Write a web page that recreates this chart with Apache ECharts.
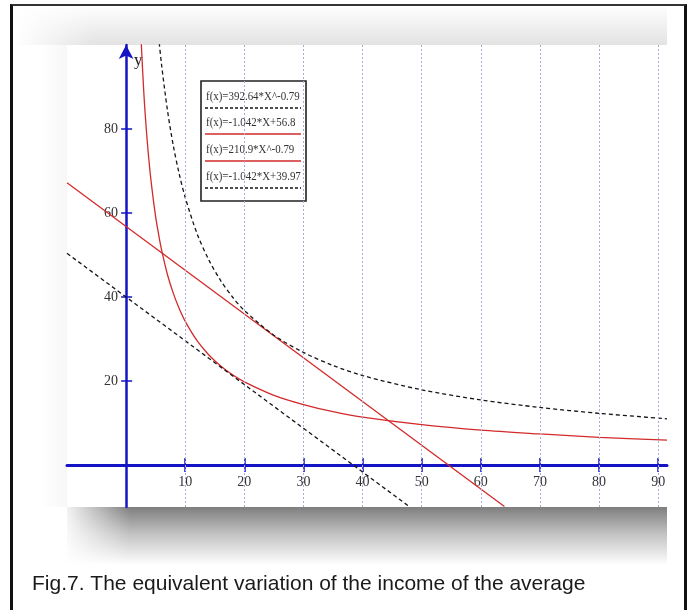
<!DOCTYPE html>
<html>
<head>
<meta charset="utf-8">
<title>Fig.7</title>
<script src="https://cdn.jsdelivr.net/npm/echarts@6/dist/echarts.min.js"></script>
<style>
html, body { margin: 0; padding: 0; background: #fff; overflow: hidden; width: 689px; height: 610px; }
#frame { position: absolute; left: 10px; top: 4px; width: 677px; height: 640px; box-sizing: border-box;
         border-left: 3px solid #111; border-right: 3px solid #111; border-top: 2px solid #333; }
#main { position: absolute; left: 0; top: 0; width: 689px; height: 610px; }
</style>
</head>
<body>
<div id="frame"></div>
<div id="main"></div>
<script>
// tick values
var xTicks = [10, 20, 30, 40, 50, 60, 70, 80, 90];
var yTicks = [20, 40, 60, 80];

// power curves, read at these x
var curveX = [2.5, 3, 3.5, 4, 4.5, 5, 5.5, 6, 7, 8, 9, 10, 12, 14, 16, 18, 20, 25, 30, 35, 40, 50, 60, 70, 80, 91.5];
var upperPower = [190.4, 164.8, 145.9, 131.3, 119.7, 110.1, 102.1, 95.3, 84.4, 75.9, 69.2, 63.7, 55.1, 48.8, 43.9, 40.0, 36.8, 30.9, 26.8, 23.7, 21.3, 17.9, 15.5, 13.7, 12.3, 11.0];
var lowerPower = [102.3, 88.5, 78.4, 70.5, 64.3, 59.1, 54.9, 51.2, 45.3, 40.8, 37.2, 34.2, 29.6, 26.2, 23.6, 21.5, 19.8, 16.6, 14.4, 12.7, 11.4, 9.6, 8.3, 7.4, 6.6, 5.9];

// straight lines, end points
var upperLineX = [-10, 64];
var upperLine = [67.2, -9.9];
var lowerLineX = [-10, 48];
var lowerLine = [50.4, -10.0];

var legendNames = ['f(x)=392.64*X^-0.79', 'f(x)=-1.042*X+56.8', 'f(x)=210.9*X^-0.79', 'f(x)=-1.042*X+39.97'];

function pairs(xs, ys) {
    return xs.map(function (x, i) { return [x, ys[i]]; });
}

var blue = '#1414c4';
var red = '#d22a2a';
var dark = '#151515';
var serif = '"Liberation Serif", "DejaVu Serif", serif';

var gl = { x: 67, y: 45, w: 600, h: 462 };
var xMin = -10, xMax = 91.5, yMin = -10, yMax = 100;
// shift the axes from the grid edge onto the zero lines
var xAxisShift = -gl.h * (0 - yMin) / (yMax - yMin);
var yAxisShift = -gl.w * (0 - xMin) / (xMax - xMin);

var legendItems = [];
var legendStyles = [
    { stroke: dark, lineDash: [3, 2] },
    { stroke: red, lineDash: null },
    { stroke: red, lineDash: null },
    { stroke: dark, lineDash: [3, 2] }
];
var textY = [97, 123, 150, 177];
var lineY = [108, 134, 161, 188];
legendItems.push({
    type: 'rect', shape: { x: 201, y: 81, width: 105, height: 120 },
    style: { fill: '#fff', stroke: '#222', lineWidth: 1.6 }
});
legendNames.forEach(function (name, i) {
    legendItems.push({
        type: 'text', x: 206, y: textY[i], scaleX: 0.84,
        style: { text: name, font: '13px ' + serif, fill: '#333', verticalAlign: 'middle' }
    });
    legendItems.push({
        type: 'line', shape: { x1: 205, y1: lineY[i], x2: 301, y2: lineY[i] },
        style: { stroke: legendStyles[i].stroke, lineWidth: 1.3, lineDash: legendStyles[i].lineDash }
    });
});

var chart = echarts.init(document.getElementById('main'));

var option = {
    backgroundColor: 'transparent',
    animation: false,
    grid: {
        left: gl.x, top: gl.y, width: gl.w, height: gl.h,
        show: true, backgroundColor: '#fff', borderWidth: 0
    },
    graphic: [
        // top fade
        {
            type: 'rect', z: 0, shape: { x: 14, y: 7, width: 653, height: 38 },
            style: { fill: new echarts.graphic.LinearGradient(0, 0, 0, 1, [
                { offset: 0, color: '#fdfdfd' }, { offset: 1, color: '#e3e3e3' }]) }
        },
        {
            type: 'rect', z: 1, shape: { x: 14, y: 7, width: 80, height: 38 },
            style: { fill: new echarts.graphic.LinearGradient(0, 0, 1, 0, [
                { offset: 0, color: 'rgba(255,255,255,1)' }, { offset: 1, color: 'rgba(255,255,255,0)' }]) }
        },
        // faint shade left of the plot
        {
            type: 'rect', z: 0, shape: { x: 40, y: 45, width: 27, height: 462 },
            style: { fill: new echarts.graphic.LinearGradient(0, 0, 1, 0, [
                { offset: 0, color: 'rgba(0,0,0,0)' }, { offset: 1, color: 'rgba(0,0,0,0.03)' }]) }
        },
        // shadow under the plot
        {
            type: 'rect', z: 0, shape: { x: 67, y: 507, width: 600, height: 58 },
            style: { fill: new echarts.graphic.LinearGradient(0, 0, 0, 1, [
                { offset: 0, color: '#7e7e7e' }, { offset: 0.45, color: '#c0c0c0' }, { offset: 1, color: '#ffffff' }]) }
        },
        {
            type: 'rect', z: 1, shape: { x: 60, y: 507, width: 70, height: 58 },
            style: { fill: new echarts.graphic.LinearGradient(0, 0, 1, 0, [
                { offset: 0, color: 'rgba(255,255,255,1)' }, { offset: 1, color: 'rgba(255,255,255,0)' }]) }
        },
        // caption
        {
            type: 'text', x: 32, y: 584,
            style: { text: 'Fig.7. The equivalent variation of the income of the average',
                font: '21px "Liberation Sans", Arial, sans-serif', fill: '#1a1a1a', verticalAlign: 'middle' }
        },
        { type: 'group', z: 100, children: legendItems }
    ],
    xAxis: [
        {
            type: 'value', min: xMin, max: xMax, position: 'bottom', offset: xAxisShift,
            axisLine: { onZero: false, lineStyle: { color: blue, width: 3 } },
            axisTick: { customValues: xTicks, length: 7, lineStyle: { color: blue, width: 1.5 } },
            axisLabel: { customValues: xTicks, margin: 10, color: '#333', fontFamily: serif, fontSize: 14 },
            splitLine: { show: false }
        },
        {
            type: 'value', min: xMin, max: xMax, position: 'bottom', offset: xAxisShift,
            axisLine: { show: false, onZero: false },
            axisTick: { customValues: xTicks, inside: true, length: 7, lineStyle: { color: blue, width: 1.5 } },
            axisLabel: { show: false },
            splitLine: { show: false }
        }
    ],
    yAxis: [
        {
            type: 'value', min: yMin, max: yMax, position: 'left', offset: yAxisShift,
            name: 'y', nameLocation: 'end', nameGap: -24,
            nameTextStyle: { align: 'left', padding: [0, 0, 0, 8], fontFamily: serif, fontSize: 17, color: '#222' },
            axisLine: { onZero: false, symbol: ['none', 'arrow'], symbolSize: [11, 14], lineStyle: { color: blue, width: 2.5 } },
            axisTick: { customValues: yTicks, length: 5, lineStyle: { color: blue, width: 1.5 } },
            axisLabel: { customValues: yTicks, margin: 8, color: '#333', fontFamily: serif, fontSize: 14 },
            splitLine: { show: false }
        },
        {
            type: 'value', min: yMin, max: yMax, position: 'left', offset: yAxisShift,
            axisLine: { show: false, onZero: false },
            axisTick: { customValues: yTicks, inside: true, length: 6, lineStyle: { color: blue, width: 1.5 } },
            axisLabel: { show: false },
            splitLine: { show: false }
        }
    ],
    series: [
        {
            // dotted vertical guide lines
            type: 'line', data: [], silent: true,
            markLine: {
                silent: true, symbol: 'none', label: { show: false },
                lineStyle: { color: '#a9a9dc', type: [2, 2], width: 1 },
                data: xTicks.map(function (v) { return { xAxis: v }; })
            }
        },
        {
            name: legendNames[2], type: 'line', data: pairs(curveX, lowerPower),
            smooth: 0.3, showSymbol: false, lineStyle: { color: red, width: 1.3 }
        },
        {
            name: legendNames[1], type: 'line', data: pairs(upperLineX, upperLine),
            showSymbol: false, lineStyle: { color: red, width: 1.3 }
        },
        {
            name: legendNames[0], type: 'line', data: pairs(curveX, upperPower),
            smooth: 0.3, showSymbol: false, lineStyle: { color: dark, width: 1.3, type: [4, 3] }
        },
        {
            name: legendNames[3], type: 'line', data: pairs(lowerLineX, lowerLine),
            showSymbol: false, lineStyle: { color: dark, width: 1.3, type: [4, 3] }
        }
    ]
};

chart.setOption(option);
</script>
</body>
</html>
